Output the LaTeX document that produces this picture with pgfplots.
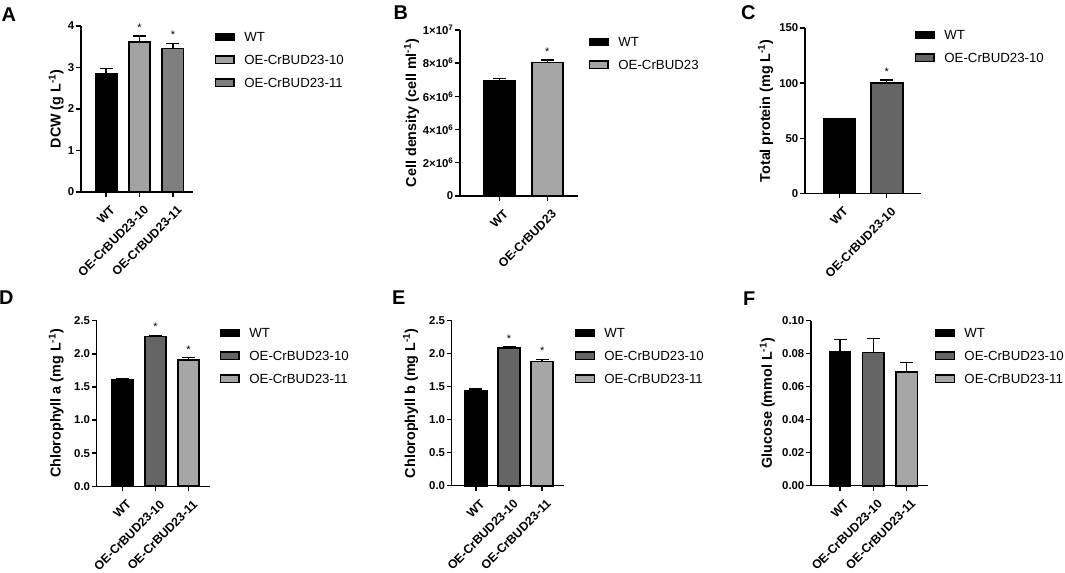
\documentclass[border=0pt]{standalone}
\usepackage{pgfplots}
\pgfplotsset{compat=1.18}
\usepackage{fontspec}
\setmainfont{Liberation Sans}
\definecolor{lgA}{HTML}{A3A3A3}
\definecolor{mgA}{HTML}{7F7F7F}
\definecolor{lg}{HTML}{A6A6A6}
\definecolor{dg}{HTML}{656565}
\newcommand\tickfont{\bfseries\fontsize{11.4}{13}\selectfont}
\newcommand\xtickfont{\bfseries\fontsize{12.3}{14}\selectfont}
\newcommand\labfont{\bfseries\fontsize{14.4}{16}\selectfont}
\newcommand\legfont{\fontsize{13.3}{15}\selectfont}
\newcommand\panfont{\bfseries\fontsize{20}{22}\selectfont}
\pgfplotsset{
 panel/.style={
  scale only axis, axis lines=left, axis line style={-, line width=1.4bp, black},
  ymin=0, enlargelimits=false, clip=false,
  tick align=outside, major tick length=5bp, tick style={line width=1.4bp, black},
  ticklabel style={font=\tickfont},
  /pgf/number format/assume math mode=true,
  xticklabel style={rotate=45, anchor=north east, inner sep=1bp, font=\xtickfont, xshift=-2bp, yshift=-7bp},
  yticklabel style={inner sep=1.5bp},
  scaled y ticks=false,
  every axis y label/.style={rotate=90, anchor=south, inner sep=0pt, font=\labfont},
  legend style={draw=none, fill=none, inner sep=0pt, outer sep=0pt, anchor=north west,
    font=\legfont, row sep=10.8bp, column sep=9.5bp,
    nodes={inner sep=0pt, text height=10.75bp, text depth=1.25bp}},
  legend cell align=left,
 },
 bars/.style={ybar, bar shift=0pt, bar width=#1, draw=black, line width=1.6bp,
   /pgfplots/error bars/y dir=plus, /pgfplots/error bars/y explicit,
   /pgfplots/error bars/error mark=|,
   /pgfplots/error bars/error bar style={line width=1.4bp, black, solid},
   /pgfplots/error bars/error mark options={mark size=6.5bp, line width=1.4bp, black, solid},
   /pgfplots/legend image code/.code={\draw[##1, line width=1.4bp] (0bp,-3.75bp) rectangle (18.5bp,3.75bp);}},
 stars/.style={forget plot, draw=none, mark=none, nodes near coords={*},
   every node near coord/.style={anchor=base, yshift=4.5bp, inner sep=0pt, font=\fontsize{11}{12}\selectfont}},
}
\begin{document}
\begin{tikzpicture}
\path[use as bounding box, fill=white] (0bp,0bp) rectangle (1065bp,573bp);

% Panel letters
\node[anchor=base west, inner sep=0pt, font=\panfont] at (1.5bp,551.3bp) {A};
\node[anchor=base west, inner sep=0pt, font=\panfont] at (393.5bp,553bp) {B};
\node[anchor=base west, inner sep=0pt, font=\panfont] at (741bp,553bp) {C};
\node[anchor=base west, inner sep=0pt, font=\panfont] at (-1bp,268.3bp) {D};
\node[anchor=base west, inner sep=0pt, font=\panfont] at (392bp,268.3bp) {E};
\node[anchor=base west, inner sep=0pt, font=\panfont] at (743bp,267.3bp) {F};

% ---------- A ----------
\begin{axis}[panel, at={(81bp,381bp)}, anchor=south west, width=112bp, height=166bp,
  xmin=-0.75, xmax=2.6, ymax=4, ytick={0,1,2,3,4},
  xtick={0,1,2}, xticklabels={WT,OE-CrBUD23-10,OE-CrBUD23-11},
  ylabel={DCW (g L\textsuperscript{-1})}, ylabel style={at={(axis description cs:-0.152,0.5)}},
  legend style={at={(axis description cs:1.196,0.970)}}]
\addplot[bars=0.64, fill=black] coordinates {(0,2.86) +- (0,0.12)};
\addlegendentry{WT}
\addplot[bars=0.64, fill=lgA] coordinates {(1,3.61) +- (0,0.15)};
\addlegendentry{OE-CrBUD23-10}
\addplot[bars=0.64, fill=mgA] coordinates {(2,3.46) +- (0,0.12)};
\addlegendentry{OE-CrBUD23-11}
\addplot[stars] coordinates {(1,3.76) (2,3.58)};
\end{axis}

% ---------- B ----------
\begin{axis}[panel, at={(460bp,377bp)}, anchor=south west, width=118bp, height=166bp,
  xmin=-0.82, xmax=1.64, ymax=10000000,
  ytick={0,2000000,4000000,6000000,8000000,10000000},
  yticklabels={0,2×10\textsuperscript{6},4×10\textsuperscript{6},6×10\textsuperscript{6},8×10\textsuperscript{6},1×10\textsuperscript{7}},
  xtick={0,1}, xticklabels={WT,OE-CrBUD23},
  ylabel={Cell density (cell ml\textsuperscript{-1})}, ylabel style={at={(axis description cs:-0.345,0.5)}},
  legend style={at={(axis description cs:1.093,0.964)}}]
\addplot[bars=0.65, fill=black] coordinates {(0,6940000) +- (0,120000)};
\addlegendentry{WT}
\addplot[bars=0.65, fill=lg] coordinates {(1,8050000) +- (0,140000)};
\addlegendentry{OE-CrBUD23}
\addplot[stars] coordinates {(1,8190000)};
\end{axis}

% ---------- C ----------
\begin{axis}[panel, at={(805bp,379.5bp)}, anchor=south west, width=116bp, height=165.5bp,
  xmin=-0.72, xmax=1.72, ymax=150, ytick={0,50,100,150},
  xtick={0,1}, xticklabels={WT,OE-CrBUD23-10},
  ylabel={Total protein (mg L\textsuperscript{-1})}, ylabel style={at={(axis description cs:-0.273,0.5)}},
  legend style={at={(axis description cs:0.948,0.994)}}]
\addplot[bars=0.67, fill=black] coordinates {(0,67.5) +- (0,0.6)};
\addlegendentry{WT}
\addplot[bars=0.67, fill=dg] coordinates {(1,100) +- (0,3)};
\addlegendentry{OE-CrBUD23-10}
\addplot[stars] coordinates {(1,103)};
\end{axis}

% ---------- D ----------
\begin{axis}[panel, at={(96.7bp,86.7bp)}, anchor=south west, width=113.3bp, height=165.6bp,
  xmin=-0.78, xmax=2.65, ymax=2.5, ytick={0,0.5,1,1.5,2,2.5},
  yticklabel style={/pgf/number format/.cd, fixed, fixed zerofill, precision=1},
  xtick={0,1,2}, xticklabels={WT,OE-CrBUD23-10,OE-CrBUD23-11},
  ylabel={Chlorophyll a (mg L\textsuperscript{-1})}, ylabel style={at={(axis description cs:-0.289,0.5)}},
  legend style={at={(axis description cs:1.088,0.962)}}]
\addplot[bars=0.65, fill=black] coordinates {(0,1.605) +- (0,0.015)};
\addlegendentry{WT}
\addplot[bars=0.65, fill=dg] coordinates {(1,2.264) +- (0,0.015)};
\addlegendentry{OE-CrBUD23-10}
\addplot[bars=0.65, fill=lg] coordinates {(2,1.91) +- (0,0.03)};
\addlegendentry{OE-CrBUD23-11}
\addplot[stars] coordinates {(1,2.279) (2,1.94)};
\end{axis}

% ---------- E ----------
\begin{axis}[panel, at={(451.7bp,87.3bp)}, anchor=south west, width=112.3bp, height=165bp,
  xmin=-0.73, xmax=2.66, ymax=2.5, ytick={0,0.5,1,1.5,2,2.5},
  yticklabel style={/pgf/number format/.cd, fixed, fixed zerofill, precision=1},
  xtick={0,1,2}, xticklabels={WT,OE-CrBUD23-10,OE-CrBUD23-11},
  ylabel={Chlorophyll b (mg L\textsuperscript{-1})}, ylabel style={at={(axis description cs:-0.297,0.5)}},
  legend style={at={(axis description cs:1.098,0.962)}}]
\addplot[bars=0.66, fill=black] coordinates {(0,1.444) +- (0,0.02)};
\addlegendentry{WT}
\addplot[bars=0.66, fill=dg] coordinates {(1,2.09) +- (0,0.01)};
\addlegendentry{OE-CrBUD23-10}
\addplot[bars=0.66, fill=lg] coordinates {(2,1.879) +- (0,0.035)};
\addlegendentry{OE-CrBUD23-11}
\addplot[stars] coordinates {(1,2.10) (2,1.914)};
\end{axis}

% ---------- F ----------
\begin{axis}[panel, at={(811bp,87.3bp)}, anchor=south west, width=116.7bp, height=165bp,
  xmin=-0.87, xmax=2.63, ymax=0.1, ytick={0,0.02,0.04,0.06,0.08,0.1},
  yticklabel style={/pgf/number format/.cd, fixed, fixed zerofill, precision=2},
  xtick={0,1,2}, xticklabels={WT,OE-CrBUD23-10,OE-CrBUD23-11},
  ylabel={Glucose (mmol L\textsuperscript{-1})}, ylabel style={at={(axis description cs:-0.308,0.5)}},
  legend style={at={(axis description cs:1.063,0.962)}}]
\addplot[bars=0.64, fill=black] coordinates {(0,0.081) +- (0,0.0075)};
\addlegendentry{WT}
\addplot[bars=0.64, fill=dg] coordinates {(1,0.0808) +- (0,0.0085)};
\addlegendentry{OE-CrBUD23-10}
\addplot[bars=0.64, fill=lg] coordinates {(2,0.0689) +- (0,0.0056)};
\addlegendentry{OE-CrBUD23-11}
\end{axis}
\end{tikzpicture}
\end{document}
